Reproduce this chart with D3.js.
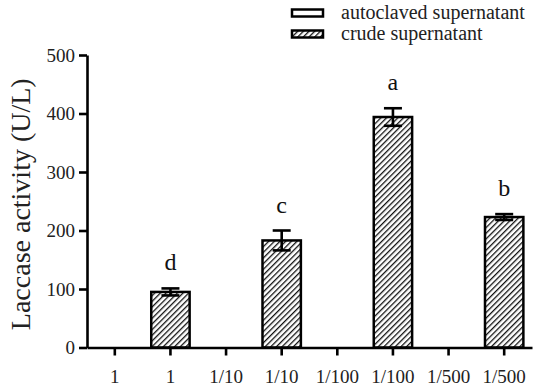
<!DOCTYPE html>
<html>
<head>
<meta charset="utf-8">
<script src="https://cdn.jsdelivr.net/npm/d3@7"></script>
<style>
  html, body { margin: 0; padding: 0; background: #fff; }
  svg { display: block; font-family: "Liberation Serif", "Times New Roman", serif; }
</style>
</head>
<body>
<div id="chart"></div>
<script>
// tick labels along the x axis (pairs: autoclaved / crude)
const xLabels = ['1', '1', '1/10', '1/10', '1/100', '1/100', '1/500', '1/500'];
const groups = ['autoclaved', 'crude', 'autoclaved', 'crude', 'autoclaved', 'crude', 'autoclaved', 'crude'];
// laccase activity (U/L), autoclaved bars are zero
const means = [0, 95, 0, 183, 0, 394, 0, 223];
const errors = [0, 6, 0, 17, 0, 15, 0, 5];
const letters = ['', 'd', '', 'c', '', 'a', '', 'b'];
const yTicks = [0, 100, 200, 300, 400, 500];
const legendLabels = ['autoclaved supernatant', 'crude supernatant'];

const width = 533, height = 388;
const margin = { top: 55, right: 1, bottom: 40.5, left: 87 };
const serif = '"Liberation Serif", "Times New Roman", serif';

const svg = d3.select('#chart')
  .append('svg')
  .attr('width', width)
  .attr('height', height);

// hatch pattern for the crude supernatant bars
const defs = svg.append('defs');
defs.append('pattern')
  .attr('id', 'hatch')
  .attr('patternUnits', 'userSpaceOnUse')
  .attr('width', 4)
  .attr('height', 4)
  .attr('patternTransform', 'rotate(45)')
  .append('line')
  .attr('x1', 0).attr('y1', 0)
  .attr('x2', 0).attr('y2', 4)
  .attr('stroke', '#111')
  .attr('stroke-width', 2.6);

const x = d3.scaleBand()
  .domain(d3.range(xLabels.length))
  .range([margin.left, width - margin.right])
  .paddingInner(0.31)
  .paddingOuter(0.155);

const xTick = d3.scaleBand()
  .domain(d3.range(xLabels.length))
  .range([margin.left, width - margin.right]);

const y = d3.scaleLinear()
  .domain([0, 500])
  .range([height - margin.bottom, margin.top]);

// bars
const bars = svg.append('g');
bars.selectAll('rect')
  .data(means.map((v, i) => ({ v, i })).filter(d => d.v > 0))
  .join('rect')
  .attr('x', d => x(d.i))
  .attr('y', d => y(d.v))
  .attr('width', x.bandwidth())
  .attr('height', d => y(0) - y(d.v))
  .attr('fill', d => groups[d.i] === 'crude' ? 'url(#hatch)' : '#fff')
  .attr('stroke', '#000')
  .attr('stroke-width', 2.5);

// error bars
const errG = svg.append('g')
  .attr('stroke', '#000')
  .attr('stroke-width', 2.6);
means.forEach((v, i) => {
  if (!v) return;
  const cx = x(i) + x.bandwidth() / 2;
  const cap = 9;
  errG.append('line')
    .attr('x1', cx).attr('x2', cx)
    .attr('y1', y(v + errors[i])).attr('y2', y(v - errors[i]));
  [v + errors[i], v - errors[i]].forEach(e => {
    errG.append('line')
      .attr('x1', cx - cap).attr('x2', cx + cap)
      .attr('y1', y(e)).attr('y2', y(e));
  });
});

// significance letters
svg.append('g')
  .selectAll('text')
  .data(letters.map((t, i) => ({ t, i })).filter(d => d.t))
  .join('text')
  .attr('x', d => x(d.i) + x.bandwidth() / 2)
  .attr('y', d => y(means[d.i] + errors[d.i]) - 18)
  .attr('text-anchor', 'middle')
  .attr('font-family', serif)
  .attr('font-size', 24)
  .attr('fill', '#111')
  .text(d => d.t);

// y axis
const yAxis = svg.append('g')
  .attr('transform', `translate(${margin.left},0)`)
  .call(d3.axisLeft(y).tickValues(yTicks).tickSize(8).tickPadding(4).tickSizeOuter(0));
yAxis.attr('font-family', serif);
yAxis.select('.domain').attr('stroke-width', 2.6);
yAxis.selectAll('.tick line').attr('stroke-width', 2.6);
yAxis.selectAll('.tick text')
  .attr('font-size', 19)
  .attr('fill', '#222');

// x axis
const xAxis = svg.append('g')
  .attr('transform', `translate(0,${y(0)})`)
  .call(d3.axisBottom(xTick).tickFormat(i => xLabels[i]).tickSize(8).tickPadding(14).tickSizeOuter(0));
xAxis.attr('font-family', serif);
xAxis.select('.domain').attr('stroke-width', 2.6);
xAxis.selectAll('.tick line').attr('stroke-width', 2.6);
xAxis.selectAll('.tick text')
  .attr('font-size', 19)
  .attr('fill', '#222');

// y axis title
svg.append('text')
  .attr('transform', `translate(30,${(margin.top + height - margin.bottom) / 2 + 3}) rotate(-90)`)
  .attr('text-anchor', 'middle')
  .attr('font-family', serif)
  .attr('font-size', 28)
  .attr('fill', '#222')
  .text('Laccase activity (U/L)');

// legend
const legend = svg.append('g');
legendLabels.forEach((label, i) => {
  const ly = 13 + i * 21;
  legend.append('rect')
    .attr('x', 292).attr('y', ly - 3.5)
    .attr('width', 31).attr('height', 7)
    .attr('fill', i === 0 ? '#fff' : 'url(#hatch)')
    .attr('stroke', '#000')
    .attr('stroke-width', 2.5);
  legend.append('text')
    .attr('x', 341).attr('y', ly + 6)
    .attr('font-family', serif)
    .attr('font-size', 20)
    .attr('fill', '#222')
    .text(label);
});
</script>
</body>
</html>
